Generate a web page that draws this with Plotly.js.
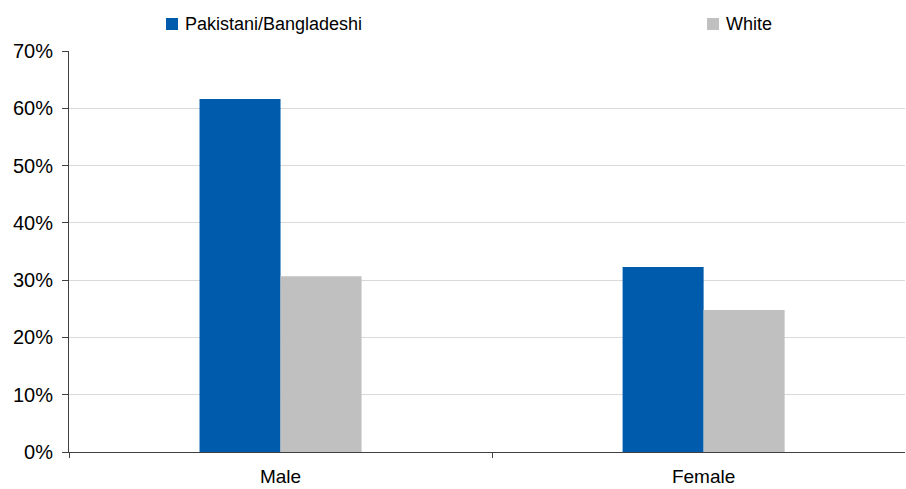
<!DOCTYPE html>
<html>
<head>
<meta charset="utf-8">
<script src="https://cdn.plot.ly/plotly-3.0.1.min.js"></script>
<style>
  html, body { margin: 0; padding: 0; background: #ffffff; }
  #chart { width: 906px; height: 489px; }
</style>
</head>
<body>
<div id="chart"></div>
<script>
// Share of each group, by sex
const categories = ['Male', 'Female'];
const pakistaniBangladeshi = [0.616, 0.323];
const white = [0.307, 0.248];
const seriesNames = ['Pakistani/Bangladeshi', 'White'];
const seriesColors = ['#005BAC', '#C0C0C0'];

const FONT = 'Liberation Sans, Arial, sans-serif';

const traces = [
  {
    type: 'bar',
    name: seriesNames[0],
    x: categories,
    y: pakistaniBangladeshi,
    marker: { color: seriesColors[0], line: { width: 0 } },
    hoverinfo: 'none'
  },
  {
    type: 'bar',
    name: seriesNames[1],
    x: categories,
    y: white,
    marker: { color: seriesColors[1], line: { width: 0 } },
    hoverinfo: 'none'
  }
];

// Legend drawn above the plot: a colour key square followed by the series name
const legendKeys = [
  { x0: 0.116, x1: 0.1304, tx: 0.1364 },
  { x0: 0.7632, x1: 0.7775, tx: 0.7835 }
];
const keyY0 = 1.0524, keyY1 = 1.0823, textY = 1.0673;

const shapes = legendKeys.map((k, i) => ({
  type: 'rect', xref: 'paper', yref: 'paper',
  x0: k.x0, x1: k.x1, y0: keyY0, y1: keyY1,
  fillcolor: seriesColors[i], line: { width: 0 }
}));

const annotations = legendKeys.map((k, i) => ({
  xref: 'paper', yref: 'paper',
  x: k.tx, y: textY, xanchor: 'left', yanchor: 'middle',
  text: seriesNames[i], showarrow: false,
  font: { family: FONT, size: 18, color: '#000000' }
}));

const layout = {
  width: 906,
  height: 489,
  paper_bgcolor: '#ffffff',
  plot_bgcolor: '#ffffff',
  margin: { l: 69, r: 1, t: 51, b: 37, pad: 0 },
  font: { family: FONT, color: '#000000', size: 18 },
  barmode: 'group',
  bargap: 0.617,
  bargroupgap: 0,
  showlegend: false,
  shapes: shapes,
  annotations: annotations,
  xaxis: {
    type: 'category',
    range: [-0.5, 1.476],
    showgrid: false,
    showline: true,
    linecolor: '#404040',
    linewidth: 1,
    ticks: 'outside',
    tickson: 'boundaries',
    ticklen: 5,
    tickcolor: '#404040',
    ticklabelstandoff: 7,
    tickfont: { family: FONT, size: 19, color: '#000000' },
    automargin: false,
    zeroline: false
  },
  yaxis: {
    range: [0, 0.70],
    dtick: 0.1,
    tick0: 0,
    tickformat: '.0%',
    showgrid: true,
    gridcolor: '#D9D9D9',
    gridwidth: 1,
    showline: true,
    linecolor: '#404040',
    linewidth: 1,
    ticks: 'outside',
    ticklen: 6,
    tickcolor: '#404040',
    ticklabelstandoff: 5,
    tickfont: { family: FONT, size: 20, color: '#000000' },
    automargin: false,
    zeroline: false
  }
};

Plotly.newPlot('chart', traces, layout, { displayModeBar: false, staticPlot: true });
</script>
</body>
</html>
